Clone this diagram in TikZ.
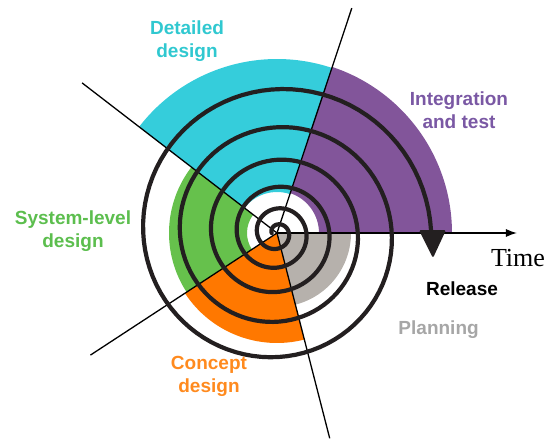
\documentclass[tikz,border=0pt]{standalone}
\usepackage{fontspec}
\setmainfont{Liberation Sans}
\newfontfamily\timesfont{Liberation Serif}
\usetikzlibrary{arrows.meta}
\definecolor{cplan}{HTML}{B6B1AC}
\definecolor{cconc}{HTML}{FF7800}
\definecolor{csys}{HTML}{66C14C}
\definecolor{cdet}{HTML}{35CDDB}
\definecolor{cint}{HTML}{82559A}
\definecolor{tdet}{HTML}{30C8D0}
\definecolor{tint}{HTML}{7A58A4}
\definecolor{tsys}{HTML}{5CBE4E}
\definecolor{tconc}{HTML}{FF8A1E}
\definecolor{tplan}{HTML}{A6A6A6}
\definecolor{spir}{HTML}{231F20}
\begin{document}
\begin{tikzpicture}[x=1pt,y=1pt,
  ray/.style={draw=black,line width=1.3pt},
  spiralline/.style={draw=spir,line width=4.2pt,line cap=round},
  lab/.style={font=\bfseries\fontsize{19}{23}\selectfont,align=center,inner sep=0pt}]
\useasboundingbox (-277,-207) rectangle (273,233);
\coordinate (O) at (0,0);
% sectors
\fill[cplan] (O) -- (-75.6:74pt) arc[start angle=-75.6,end angle=0,radius=74pt] -- cycle;
\fill[cconc] (O) -- (-146.8:110pt) arc[start angle=-146.8,end angle=-75.6,radius=110pt] -- cycle;
\fill[csys] (142.4:30pt) -- (142.4:108pt) arc[start angle=142.4,end angle=213.2,radius=108pt] -- (213.2:30pt) arc[start angle=213.2,end angle=142.4,radius=30pt] -- cycle;
\fill[cdet] (71.6:41pt) -- (71.6:174pt) arc[start angle=71.6,end angle=142.4,radius=174pt] -- (142.4:41pt) arc[start angle=142.4,end angle=71.6,radius=41pt] -- cycle;
\fill[cint] (0:42pt) -- (0:175pt) arc[start angle=0,end angle=71.6,radius=175pt] -- (71.6:42pt) arc[start angle=71.6,end angle=0,radius=42pt] -- cycle;
% rays
\coordinate (r1) at (71.6:237pt);
\coordinate (r2) at (142.4:246pt);
\coordinate (r3) at (213.2:223pt);
\coordinate (r4) at (-75.6:212pt);
\coordinate (tend) at (240,0);
\draw[ray] (O) -- (r1);
\draw[ray] (O) -- (r2);
\draw[ray] (O) -- (r3);
\draw[ray] (O) -- (r4);
\draw[ray,-{Latex[length=11pt,width=8pt]}] (O) -- (tend);
% spiral
\draw[spiralline] plot[domain=0.5:6,samples=500]
  ({(9.2*\x+2.75*\x*\x)*cos(-360*\x)},{(9.2*\x+2.75*\x*\x)*sin(-360*\x)});
\fill[spir,rounded corners=1.5pt] (142,3) -- (169,3) -- (156,-25) -- cycle;
% labels
\node[lab,text=tdet] (ldet) at (-90,191.5) {Detailed\\design};
\node[lab,text=tint] (lint) at (182,123) {Integration\\and test};
\node[lab,text=tsys] (lsys) at (-204,1.5) {System-level\\design};
\node[lab,text=tconc] (lconc) at (-68,-143) {Concept\\design};
\node[lab,text=black] (lrel) at (185,-56) {Release};
\node[lab,text=tplan] (lplan) at (161.6,-97) {Planning};
\node[font=\timesfont\fontsize{26}{30}\selectfont,inner sep=0pt] (ltime) at (241,-25) {Time};
\end{tikzpicture}
\end{document}
